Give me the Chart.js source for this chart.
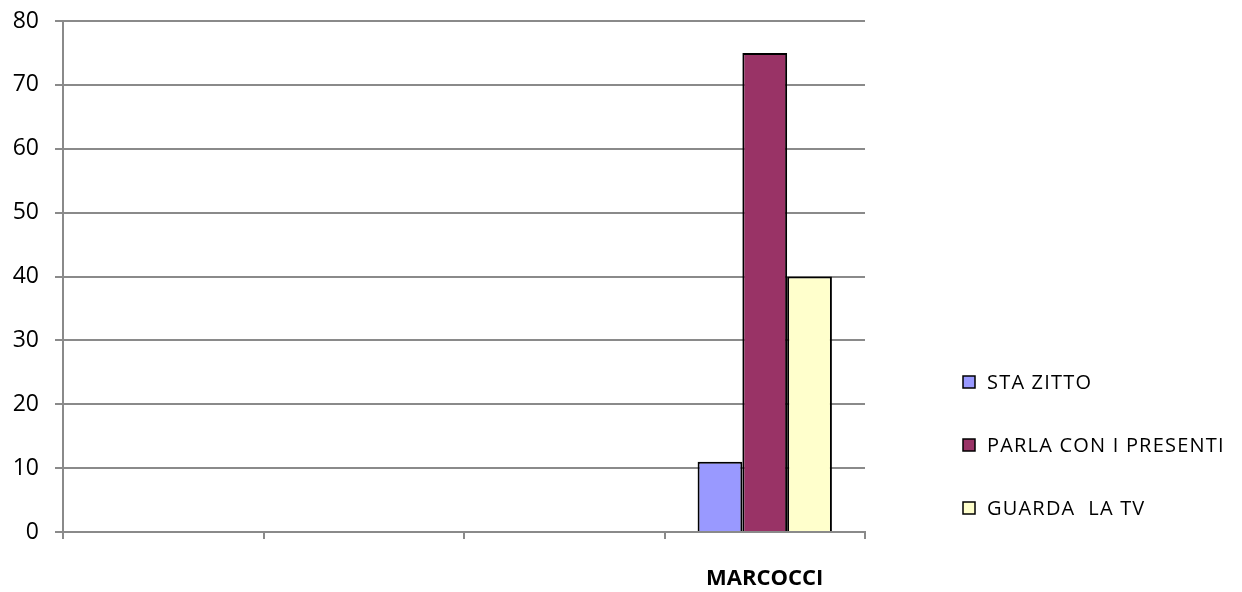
<!DOCTYPE html>
<html>
<head>
<meta charset="utf-8">
<script src="https://cdn.jsdelivr.net/npm/chart.js@4/dist/chart.umd.min.js"></script>
<style>
  html, body { margin: 0; padding: 0; background: #fff; }
  #wrap { width: 1242px; height: 592px; position: relative; }
</style>
</head>
<body>
<div id="wrap"><canvas id="c" width="1242" height="592"></canvas></div>
<script>
var categories = ["", "", "", "MARCOCCI"];
var staZitto = [null, null, null, 11];
var parlaConIPresenti = [null, null, null, 75];
var guardaLaTv = [null, null, null, 40];
var seriesNames = ["STA ZITTO", "PARLA CON I PRESENTI", "GUARDA  LA TV"];
var yTicks = [0, 10, 20, 30, 40, 50, 60, 70, 80];

var FONT = "'Open Sans', 'Liberation Sans', sans-serif";
var GRID = "#8a8a8a";

// legend drawn by hand to the right of the plot, like the original
var sideLegend = {
  id: "sideLegend",
  afterDraw: function (chart) {
    var ctx = chart.ctx;
    var ys = [382, 445, 508];
    ctx.save();
    chart.data.datasets.forEach(function (ds, i) {
      ctx.fillStyle = ds.backgroundColor;
      ctx.fillRect(963, ys[i] - 6, 12, 12);
      ctx.strokeStyle = "#000";
      ctx.lineWidth = 1.5;
      ctx.strokeRect(963, ys[i] - 6, 12, 12);
      ctx.fillStyle = "#000";
      ctx.font = "20px " + FONT;
      if ("letterSpacing" in ctx) ctx.letterSpacing = "1.2px";
      ctx.textBaseline = "middle";
      ctx.fillText(ds.label, 987, ys[i] + 1);
    });
    ctx.restore();
  }
};

new Chart(document.getElementById("c"), {
  type: "bar",
  data: {
    labels: categories,
    datasets: [
      { label: seriesNames[0], data: staZitto, backgroundColor: "#9999ff", borderColor: "#000", borderWidth: 2 },
      { label: seriesNames[1], data: parlaConIPresenti, backgroundColor: "#993366", borderColor: "#000", borderWidth: 2 },
      { label: seriesNames[2], data: guardaLaTv, backgroundColor: "#ffffcc", borderColor: "#000", borderWidth: 2 }
    ]
  },
  options: {
    responsive: false,
    animation: false,
    devicePixelRatio: 1,
    layout: { padding: { left: 0, right: 377, top: 21, bottom: 0 } },
    datasets: { bar: { categoryPercentage: 0.67, barPercentage: 1, skipNull: false } },
    plugins: { legend: { display: false }, tooltip: { enabled: false } },
    scales: {
      x: {
        offset: true,
        grid: { offset: true, drawOnChartArea: false, drawTicks: true, tickLength: 7, color: GRID, lineWidth: 2 },
        border: { color: GRID, width: 2 },
        ticks: { color: "#000", padding: 27, font: { family: FONT, size: 22, weight: "bold" }, maxRotation: 0 },
        afterFit: function (s) { s.height = 60; s.paddingLeft = 0; s.paddingRight = 0; }
      },
      y: {
        min: 0, max: 80,
        afterBuildTicks: function (s) { s.ticks = yTicks.map(function (v) { return { value: v }; }); },
        grid: { color: GRID, lineWidth: 2, tickLength: 8 },
        border: { color: GRID, width: 2 },
        ticks: { color: "#000", padding: 16, font: { family: FONT, size: 23 } },
        afterFit: function (s) { s.width = 63; s.paddingTop = 0; s.paddingBottom = 0; }
      }
    }
  },
  plugins: [sideLegend]
});
</script>
</body>
</html>
